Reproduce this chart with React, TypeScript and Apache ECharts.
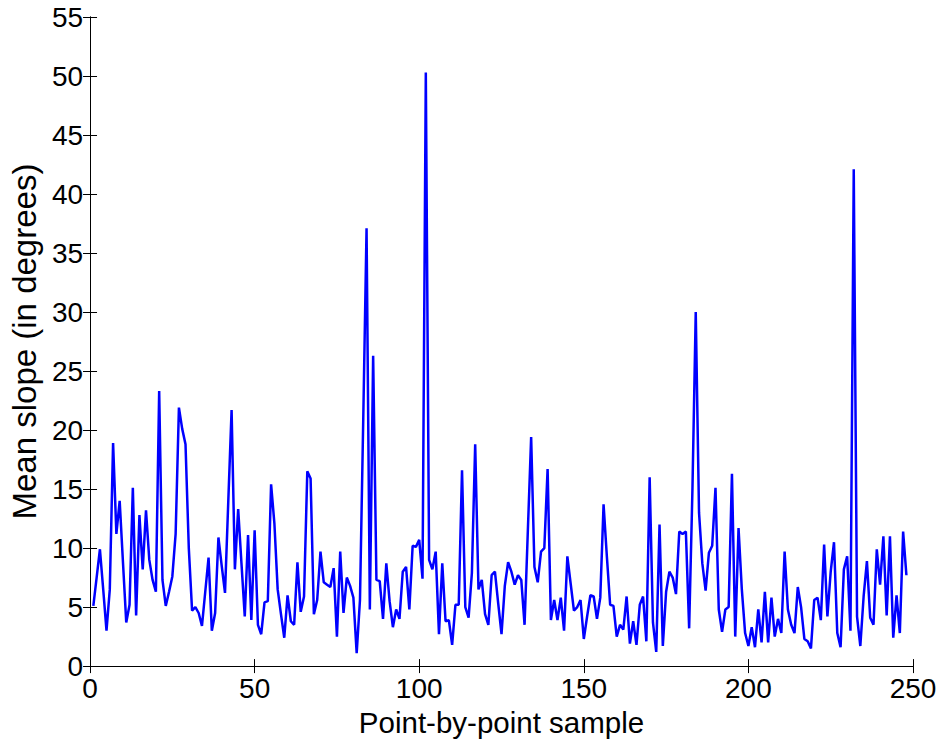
import React, { useEffect, useRef } from "react";
import * as echarts from "echarts";

const meanSlope: number[] = [
  5.1, 7.5, 9.9, 6.5, 3.0, 6.5, 18.9, 11.2, 14.0, 8.8,
  3.7, 5.2, 15.1, 4.3, 12.8, 8.2, 13.2, 9.0, 7.3, 6.3,
  23.3, 7.3, 5.1, 6.3, 7.6, 11.2, 21.9, 20.1, 18.8, 10.0,
  4.7, 5.0, 4.5, 3.4, 6.3, 9.2, 3.0, 4.5, 10.9, 8.5,
  6.2, 14.0, 21.7, 8.2, 13.3, 8.7, 4.2, 11.1, 3.9, 11.5,
  3.5, 2.7, 5.4, 5.5, 15.4, 12.1, 6.5, 4.4, 2.4, 6.0,
  3.8, 3.5, 8.8, 4.6, 5.9, 16.5, 15.9, 4.4, 5.6, 9.7,
  7.1, 6.9, 6.7, 8.3, 2.5, 9.7, 4.5, 7.5, 6.8, 5.8,
  1.1, 5.6, 21.0, 37.1, 4.8, 26.3, 7.3, 7.2, 4.0, 8.7,
  5.5, 3.3, 4.8, 4.0, 8.0, 8.4, 4.8, 10.2, 10.1, 10.7,
  7.4, 50.3, 9.0, 8.2, 9.7, 2.7, 8.7, 3.8, 3.9, 1.8,
  5.2, 5.2, 16.6, 5.0, 4.1, 7.9, 18.8, 6.5, 7.3, 4.4,
  3.5, 7.7, 8.0, 5.3, 2.7, 6.8, 8.8, 8.0, 6.9, 7.7,
  7.3, 3.5, 11.5, 19.4, 8.4, 7.1, 9.7, 10.0, 16.7, 3.9,
  5.6, 3.9, 5.8, 3.0, 9.3, 7.0, 4.7, 5.0, 5.6, 2.3,
  4.2, 6.0, 5.9, 4.0, 5.8, 13.7, 9.3, 5.2, 5.1, 2.5,
  3.5, 3.1, 5.9, 1.9, 3.8, 1.8, 5.2, 5.9, 2.1, 16.0,
  3.7, 1.2, 12.0, 1.7, 6.3, 8.0, 7.5, 6.1, 11.4, 11.2,
  11.4, 3.2, 15.0, 30.0, 13.0, 8.7, 6.4, 9.6, 10.2, 15.1,
  4.8, 2.9, 4.8, 5.0, 16.3, 2.5, 11.7, 6.5, 2.8, 1.7,
  3.3, 1.6, 4.8, 2.0, 6.3, 2.0, 5.8, 2.5, 4.0, 2.8,
  9.7, 4.8, 3.5, 2.8, 6.7, 5.0, 2.3, 2.1, 1.5, 5.6,
  5.8, 3.9, 10.3, 4.2, 8.0, 10.5, 2.8, 1.6, 8.2, 9.3,
  3.0, 42.1, 4.2, 1.7, 5.9, 8.9, 4.1, 3.5, 9.9, 6.9,
  11.0, 4.3, 11.0, 2.4, 6.0, 2.8, 11.4, 7.7,
];

const xTitle = "Point-by-point sample";
const yTitle = "Mean slope (in degrees)";

export default function App() {
  const ref = useRef<HTMLDivElement>(null);
  useEffect(() => {
    if (!ref.current) return;
    const chart = echarts.init(ref.current, null, { renderer: "svg" });
    const font = "Liberation Sans, Arial, sans-serif";
    const data = meanSlope.map((v, i) => [i + 1, v]);
    const tickStyle = { show: true, inside: true, length: 7, lineStyle: { color: "#000", width: 1 } };
    const lineStyle = { show: true, lineStyle: { color: "#000", width: 1 } };
    chart.setOption({
      animation: false,
      backgroundColor: "#fff",
      grid: { left: 90, right: 27, top: 17, bottom: 75, containLabel: false },
      xAxis: [
        {
          type: "value",
          min: 0,
          max: 250,
          interval: 50,
          position: "bottom",
          axisLine: lineStyle,
          axisTick: tickStyle,
          splitLine: { show: false },
          axisLabel: { color: "#000", fontSize: 28, fontFamily: font, margin: 8 },
          name: xTitle,
          nameLocation: "middle",
          nameGap: 38,
          nameTextStyle: { color: "#000", fontSize: 29.5, fontFamily: font },
        },
        {
          type: "value",
          min: 0,
          max: 250,
          interval: 50,
          position: "top",
          axisLine: lineStyle,
          axisTick: tickStyle,
          splitLine: { show: false },
          axisLabel: { show: false },
        },
      ],
      yAxis: [
        {
          type: "value",
          min: 0,
          max: 55,
          interval: 5,
          position: "left",
          axisLine: lineStyle,
          axisTick: tickStyle,
          splitLine: { show: false },
          axisLabel: { color: "#000", fontSize: 28, fontFamily: font, margin: 7 },
          name: yTitle,
          nameLocation: "middle",
          nameGap: 48,
          nameTextStyle: { color: "#000", fontSize: 33, fontFamily: font },
        },
        {
          type: "value",
          min: 0,
          max: 55,
          interval: 5,
          position: "right",
          axisLine: lineStyle,
          axisTick: tickStyle,
          splitLine: { show: false },
          axisLabel: { show: false },
        },
      ],
      series: [
        {
          type: "line",
          data,
          xAxisIndex: 0,
          yAxisIndex: 0,
          showSymbol: false,
          symbol: "none",
          lineStyle: { color: "#0000ff", width: 2.5 },
        },
      ],
    });
    return () => chart.dispose();
  }, []);
  return <div ref={ref} style={{ width: 940, height: 742, position: "absolute", left: 0, top: 0 }} />;
}
